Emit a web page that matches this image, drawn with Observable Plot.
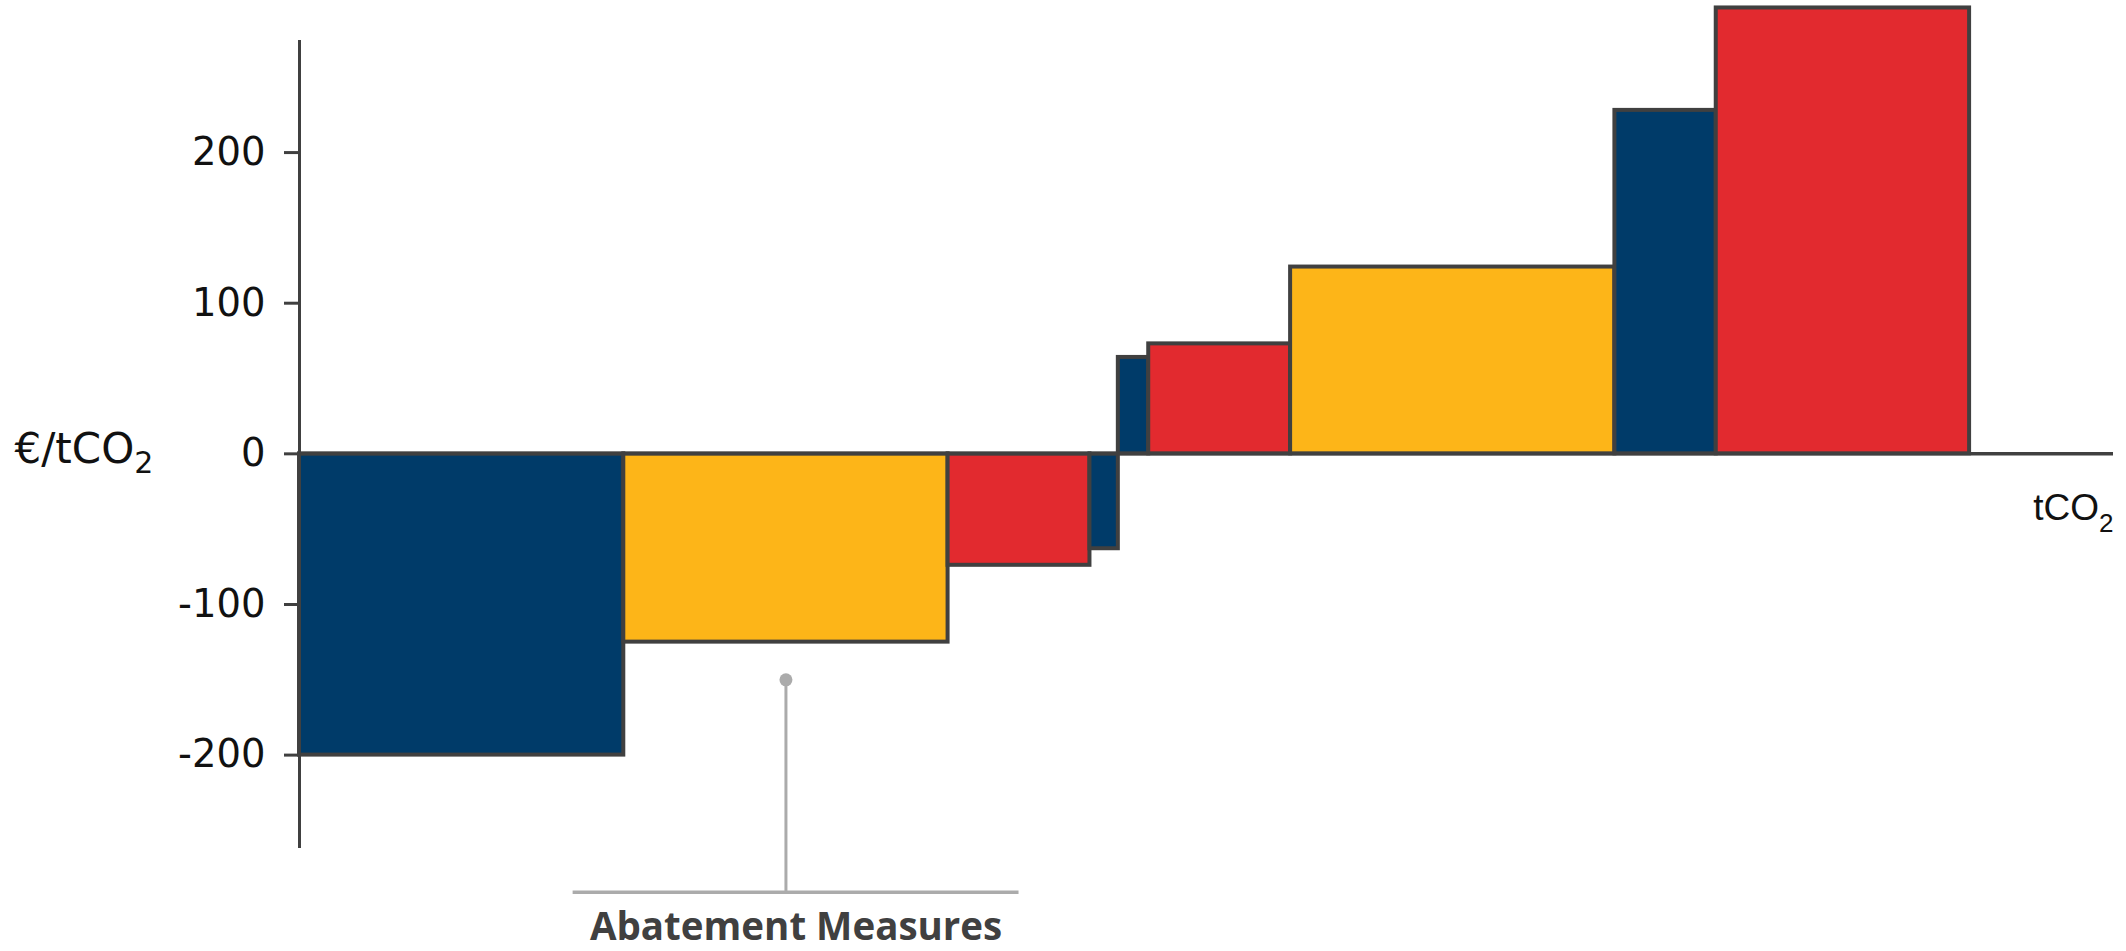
<!DOCTYPE html>
<html>
<head>
<meta charset="utf-8">
<script src="https://cdn.jsdelivr.net/npm/d3@7"></script>
<script src="https://cdn.jsdelivr.net/npm/@observablehq/plot@0.6"></script>
<style>
  html, body { margin: 0; padding: 0; background: #ffffff; overflow: hidden; }
  #chart svg { display: block; }
</style>
</head>
<body>
<div id="chart"></div>
<script>
// Marginal abatement cost curve: each measure is a block whose width is its
// abatement potential (tCO2) and whose height is its cost (€/tCO2).
const measures  = ["M1", "M2", "M3", "M4", "M5", "M6", "M7", "M8", "M9"];
const measureType = ["A", "B", "C", "A", "A", "C", "B", "A", "C"];
const potential = [32, 32, 14, 2.8, 3, 14, 32, 10, 25];
const cost      = [-200, -125, -74, -63, 64, 73, 124, 228, 296];
const yTicks    = [-200, -100, 0, 100, 200];

// Stack the blocks left to right along the cumulative abatement axis.
let cursor = 0;
const rows = measures.map((name, i) => {
  const row = {name, type: measureType[i], x1: cursor, x2: cursor + potential[i], cost: cost[i]};
  cursor += potential[i];
  return row;
});

const xMax = 179;
const yMin = -262, yMax = 274.4;
const ink = "#404040";
const grey = "#ababab";

// Callout pointing at the second measure.
const callout = rows[1];
const calloutX = (callout.x1 + callout.x2) / 2;
const bracket = {x1: 27, x2: 71, y: -291};

const chart = Plot.plot({
  width: 2126,
  height: 951,
  marginLeft: 299,
  marginRight: 13,
  marginTop: 40,
  marginBottom: 103,
  x: {domain: [0, xMax], axis: null},
  y: {domain: [yMin, yMax], axis: null},
  color: {domain: ["A", "B", "C"], range: ["#003b69", "#fdb518", "#e22a2f"]},
  style: {fontFamily: "DejaVu Sans", background: "#ffffff", overflow: "visible"},
  marks: [
    Plot.rect(rows, {x1: "x1", x2: "x2", y1: 0, y2: "cost", fill: "type", stroke: ink, strokeWidth: 4}),
    Plot.ruleY([0], {x1: 0, x2: xMax, stroke: ink, strokeWidth: 3.5}),
    Plot.ruleX([0], {y1: yMin, y2: yMax, stroke: ink, strokeWidth: 3}),
    Plot.axisY({
      ticks: yTicks,
      tickSize: 15,
      tickPadding: 19,
      tickFormat: d => String(d),
      label: null,
      fontSize: 38.5,
      fontFamily: "DejaVu Sans",
      stroke: ink,
      strokeWidth: 3,
      fill: "#111111"
    }),
    // axis titles
    Plot.text(["€/tCO2"], {
      x: 0, y: 0, dx: -285, dy: -4, text: d => d,
      textAnchor: "start", lineAnchor: "middle",
      fontSize: 42, fontFamily: "DejaVu Sans", fill: "#111111"
    }),
    Plot.text(["tCO2"], {
      x: xMax, y: -44, text: d => d,
      textAnchor: "end", lineAnchor: "bottom",
      fontSize: 37, fontFamily: "Liberation Sans", fill: "#111111"
    }),
    // callout
    Plot.ruleX([calloutX], {y1: -150, y2: bracket.y, stroke: grey, strokeWidth: 3}),
    Plot.dot([calloutX], {x: d => d, y: -150, r: 6.5, fill: grey, stroke: null}),
    Plot.ruleY([bracket.y], {x1: bracket.x1, x2: bracket.x2, stroke: grey, strokeWidth: 3.5}),
    Plot.text(["Abatement Measures"], {
      x: (bracket.x1 + bracket.x2) / 2, y: -323, text: d => d,
      textAnchor: "middle", lineAnchor: "bottom",
      fontSize: 38.5, fontWeight: 700, fontFamily: "Open Sans", fill: ink
    })
  ]
});

// Turn the trailing "2" of CO2 into a subscript.
chart.querySelectorAll("text").forEach(t => {
  const s = t.textContent;
  if (!s.endsWith("CO2")) return;
  const big = s.startsWith("€");
  t.textContent = s.slice(0, -1);
  const sub = document.createElementNS("http://www.w3.org/2000/svg", "tspan");
  sub.textContent = "2";
  sub.setAttribute("font-size", big ? "30" : "26");
  sub.setAttribute("dy", big ? "10" : "12");
  t.appendChild(sub);
});

document.getElementById("chart").appendChild(chart);
</script>
</body>
</html>
